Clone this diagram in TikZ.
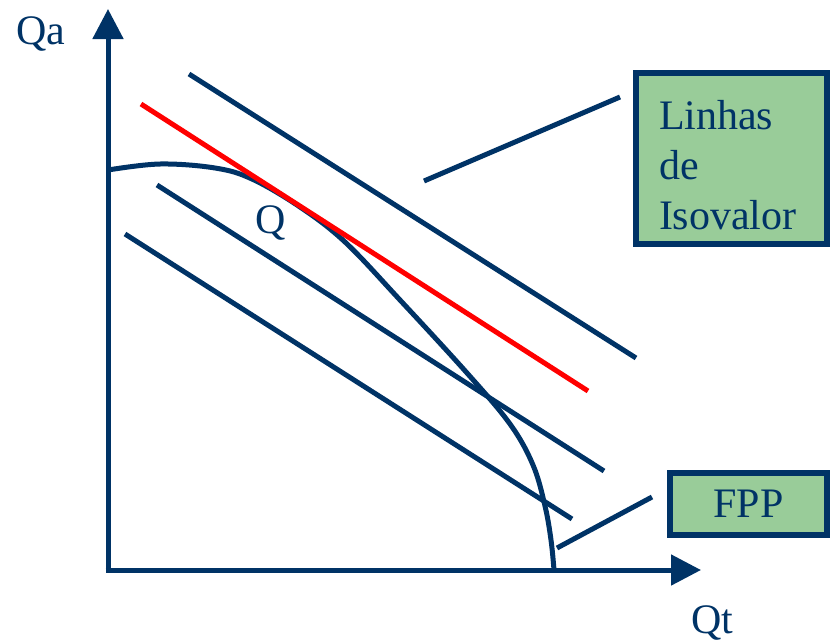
\documentclass[tikz,border=0pt]{standalone}
\usepackage{fontspec}
\setmainfont{Liberation Serif}
\usetikzlibrary{arrows.meta}
\definecolor{navy}{HTML}{003366}
\definecolor{boxgreen}{HTML}{99CC99}
\definecolor{isored}{HTML}{FF0000}
\tikzset{
  lbl/.style={text=navy,font=\fontsize{42}{50}\selectfont,inner sep=0pt},
  axisline/.style={draw=navy,line width=5pt,-{Triangle[length=30pt,width=30pt]}},
  isoline/.style={draw=navy,line width=5pt},
  redline/.style={draw=isored,line width=5pt},
  labelbox/.style={draw=navy,fill=boxgreen,line width=6pt,text=navy,font=\fontsize{42}{50}\selectfont}
}
\begin{document}
\begin{tikzpicture}[x=1pt,y=-1pt]
\useasboundingbox (0,0) rectangle (834,643);
% axes
\coordinate (ytop) at (108,9);
\coordinate (xend) at (701,570);
\coordinate (ybot) at (108,572);
\coordinate (xbeg) at (105.5,570);
\draw[axisline] (ybot) -- (ytop);
\draw[axisline] (xbeg) -- (xend);
\node[lbl] (qa) at (41,34) {Qa};
\node[lbl] (qt) at (712,623) {Qt};
% iso lines
\coordinate (a1) at (189,74);  \coordinate (a2) at (636,358);
\coordinate (r1) at (141,104); \coordinate (r2) at (588,391);
\coordinate (b1) at (157,185); \coordinate (b2) at (604,471);
\coordinate (c1) at (125,234); \coordinate (c2) at (572,519);
\draw[isoline] (a1) -- (a2);
\draw[isoline] (b1) -- (b2);
\draw[isoline] (c1) -- (c2);
% FPP curve
\draw[isoline] plot[smooth,tension=0.6] coordinates {(108,170) (160,164) (215,168) (252,179) (300,207) (345,242) (400,300) (467,373) (510,424) (533,465) (545,506) (551,540) (554,570)};
\draw[redline] (r1) -- (r2);
\node[lbl] (q) at (271,223) {Q};
% boxes
\node[labelbox,minimum width=191pt,minimum height=171pt,text width=145pt,align=left,inner xsep=23pt] (iso) at (731.5,158.5) {\rule{0pt}{43pt}Linhas\\de\\Isovalor};
\node[labelbox,minimum width=157pt,minimum height=62pt] (fpp) at (748.5,504) {FPP};
% leaders
\coordinate (l1s) at (424,181); \coordinate (l1e) at (620,97);
\coordinate (l2s) at (557,548); \coordinate (l2e) at (652,497);
\draw[isoline] (l1s) -- (l1e);
\draw[isoline] (l2s) -- (l2e);
\end{tikzpicture}
\end{document}
